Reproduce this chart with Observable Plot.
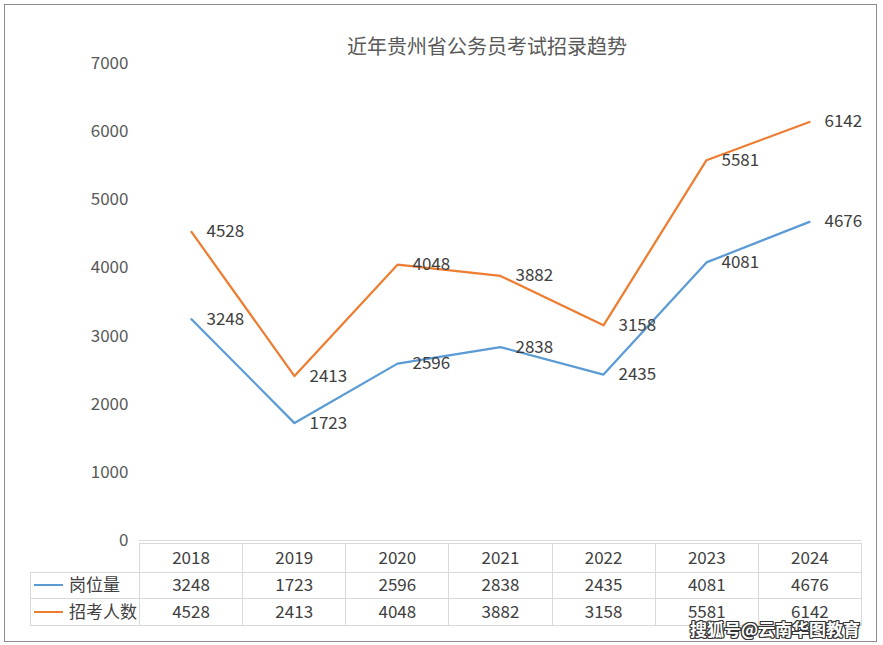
<!DOCTYPE html>
<html><head><meta charset="utf-8">
<script src="https://cdn.jsdelivr.net/npm/d3@7"></script>
<script src="https://cdn.jsdelivr.net/npm/@observablehq/plot@0.6"></script>
<style>
body{margin:0;background:#fff;font-family:"Noto Sans CJK SC","Noto Sans",sans-serif;}
#wrap{position:relative;width:883px;height:645px;overflow:hidden;background:#fff;}
#frame{position:absolute;left:4px;top:4px;width:873px;height:638px;border:1px solid #8c8c8c;box-sizing:border-box;}
#title{position:absolute;left:0;top:31px;width:974px;text-align:center;font-size:20px;color:#595959;white-space:nowrap;}
#chart{position:absolute;left:0;top:0;}
#tbl{position:absolute;left:30px;top:543px;border-collapse:collapse;table-layout:fixed;font-size:17px;color:#404040;}
#tbl td{border:1px solid #d9d9d9;text-align:center;padding:0 0 4px 0;line-height:1;box-sizing:border-box;}
#tbl td.lab{text-align:left;padding-left:3px;white-space:nowrap;}
#tbl td.blank{border-top:none;border-left:none;}
.key{display:inline-block;width:29px;height:2px;vertical-align:middle;margin-right:6px;position:relative;top:-1px;}
#sohu{position:absolute;left:690px;top:619px;font-size:17px;font-weight:bold;color:#fff;white-space:nowrap;line-height:20px;
text-shadow:1px 1px 0 #333,-1px -1px 0 #333,1px -1px 0 #333,-1px 1px 0 #333,0 1px 0 #333,0 -1px 0 #333,1px 0 0 #333,-1px 0 0 #333;}
</style></head>
<body>
<div id="wrap">
  <div id="frame"></div>
  <div id="title"></div>
  <div id="chart"></div>
  <table id="tbl"></table>
  <div id="sohu"></div>
</div>
<script>
const title = "近年贵州省公务员考试招录趋势";
const years = ["2018", "2019", "2020", "2021", "2022", "2023", "2024"];
const seriesNames = ["岗位量", "招考人数"];
const posts = [3248, 1723, 2596, 2838, 2435, 4081, 4676];
const applicants = [4528, 2413, 4048, 3882, 3158, 5581, 6142];
const seriesColors = ["#5B9BD5", "#ED7D31"];
const yTicks = [0, 1000, 2000, 3000, 4000, 5000, 6000, 7000];
const credit = "搜狐号@云南华图教育";

document.getElementById("title").textContent = title;
document.getElementById("sohu").textContent = credit;

const seriesValues = [posts, applicants];
const data = [];
seriesNames.forEach((s, i) => years.forEach((y, j) => data.push({series: s, year: y, value: seriesValues[i][j]})));

const chart = Plot.plot({
  width: 883, height: 645,
  marginTop: 63, marginBottom: 105, marginLeft: 139, marginRight: 22,
  style: {background: "transparent", color: "#595959", fontFamily: '"Noto Sans CJK SC", "Noto Sans", sans-serif', fontSize: "17px", overflow: "visible"},
  x: {type: "point", domain: years, padding: 0.5, axis: null},
  y: {domain: [0, 7000], axis: null},
  color: {domain: seriesNames, range: seriesColors},
  marks: [
    Plot.axisY({ticks: yTicks, tickSize: 0, tickPadding: 11, label: null, fontSize: 17, tickFormat: d => String(d)}),
    Plot.ruleY([0], {stroke: "#d9d9d9", strokeWidth: 1}),
    Plot.line(data, {x: "year", y: "value", z: "series", stroke: "series", strokeWidth: 2.25}),
    Plot.text(data, {x: "year", y: "value", text: d => String(d.value), dx: 15, textAnchor: "start", fill: "#404040", fontSize: 17})
  ]
});
document.getElementById("chart").appendChild(chart);

// data table under the chart
const tbl = document.getElementById("tbl");
const colg = document.createElement("colgroup");
const widths = [109].concat(years.map(() => 722 / years.length));
widths.forEach(w => { const c = document.createElement("col"); c.style.width = w + "px"; colg.appendChild(c); });
tbl.appendChild(colg);
const hr = document.createElement("tr");
hr.style.height = "29px";
const blank = document.createElement("td"); blank.className = "blank"; hr.appendChild(blank);
years.forEach(y => { const td = document.createElement("td"); td.textContent = y; hr.appendChild(td); });
tbl.appendChild(hr);
const rowHeights = [26, 27];
seriesNames.forEach((s, i) => {
  const tr = document.createElement("tr");
  tr.style.height = rowHeights[i] + "px";
  const lab = document.createElement("td"); lab.className = "lab";
  const key = document.createElement("span"); key.className = "key"; key.style.background = seriesColors[i];
  lab.appendChild(key); lab.appendChild(document.createTextNode(s));
  tr.appendChild(lab);
  seriesValues[i].forEach(v => { const td = document.createElement("td"); td.textContent = String(v); tr.appendChild(td); });
  tbl.appendChild(tr);
});
</script>
</body></html>
